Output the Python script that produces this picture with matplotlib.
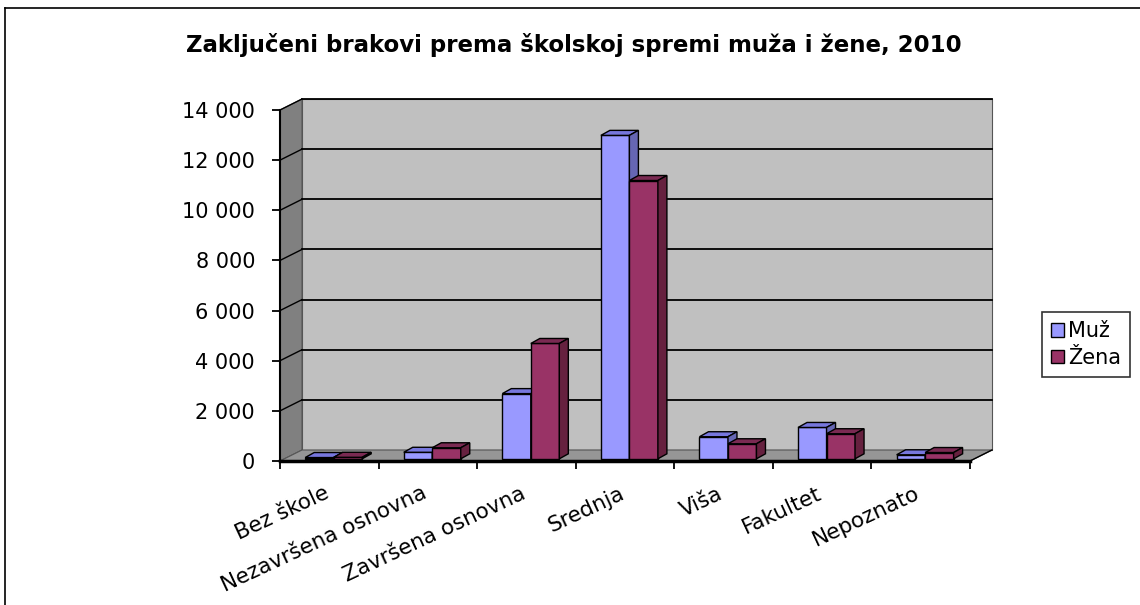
import matplotlib
matplotlib.use("Agg")
import matplotlib.pyplot as plt
from matplotlib.patches import Polygon, Patch
from matplotlib.lines import Line2D
from matplotlib.ticker import FuncFormatter
from matplotlib.transforms import ScaledTranslation

# data
categories = ["Bez škole", "Nezavršena osnovna", "Završena osnovna", "Srednja",
              "Viša", "Fakultet", "Nepoznato"]
muz = [50, 260, 2600, 12900, 880, 1250, 160]
zena = [60, 440, 4600, 11100, 600, 1000, 250]
series_names = ["Muž", "Žena"]
yticks = [0, 2000, 4000, 6000, 8000, 10000, 12000, 14000]
title = "Zaključeni brakovi prema školskoj spremi muža i žene, 2010"

W, H = 1140, 605
fig = plt.figure(figsize=(W / 100, H / 100), dpi=100)
plt.rcParams["font.family"] = ["DejaVu Sans"]

# front plane of the plot in pixels
x0_px, x1_px, y0_px, y1_px = 280, 970, 461, 110
ax = fig.add_axes([x0_px / W, (H - y0_px) / H, (x1_px - x0_px) / W, (y0_px - y1_px) / H])
ncat = len(categories)
ymax = yticks[-1]
ax.set_xlim(0, ncat)
ax.set_ylim(0, ymax)
ax.patch.set_visible(False)

px_cat = (x1_px - x0_px) / ncat
px_val = (y0_px - y1_px) / ymax

# fake 3d offsets (pixels -> data units)
fdx, fdy = 22 / px_cat, 11 / px_val      # floor / wall depth
bdx, bdy = 9 / px_cat, 5 / px_val        # bar depth
bx0, by0 = 0.2 * fdx, 0.2 * fdy          # bars sit a bit behind the front edge
bw = 28.5 / px_cat

wall_kw = dict(closed=True, clip_on=False, linewidth=0.8, edgecolor="#555555")
ax.add_patch(Polygon([(fdx, fdy), (ncat + fdx, fdy), (ncat + fdx, ymax + fdy), (fdx, ymax + fdy)],
                     facecolor="#c0c0c0", zorder=0.5, **wall_kw))
ax.add_patch(Polygon([(0, 0), (0, ymax), (fdx, ymax + fdy), (fdx, fdy)],
                     facecolor="#808080", zorder=0.5, **wall_kw))
ax.add_patch(Polygon([(0, 0), (ncat, 0), (ncat + fdx, fdy), (fdx, fdy)],
                     facecolor="#969696", zorder=0.5, **wall_kw))

# gridlines on back wall + side wall
for v in yticks[1:]:
    ax.plot([fdx, ncat + fdx], [v + fdy, v + fdy], color="black", lw=1.3, zorder=0.6, clip_on=False)
    ax.plot([0, fdx], [v, v + fdy], color="black", lw=1.0, zorder=0.6, clip_on=False)
ax.plot([ncat, ncat + fdx], [0, fdy], color="black", lw=1.0, zorder=0.6, clip_on=False)

colors = ["#9999ff", "#993366"]
tops = ["#7777dd", "#7a2a52"]
sides = ["#6666b3", "#66213f"]

for i in range(ncat):
    for s, vals in enumerate([muz, zena]):
        xc = i + 0.5 + bx0 + (s - 0.5) * bw
        h = vals[i]
        ax.bar(xc, h, bw, bottom=by0, color=colors[s], edgecolor="black", lw=1.0, zorder=2)
        xl, xr, top = xc - bw / 2, xc + bw / 2, by0 + h
        ax.add_patch(Polygon([(xl, top), (xr, top), (xr + bdx, top + bdy), (xl + bdx, top + bdy)],
                             closed=True, facecolor=tops[s], edgecolor="black", lw=1.0, zorder=2))
        ax.add_patch(Polygon([(xr, by0), (xr, top), (xr + bdx, top + bdy), (xr + bdx, by0 + bdy)],
                             closed=True, facecolor=sides[s], edgecolor="black", lw=1.0, zorder=2))

for sp in ["top", "right"]:
    ax.spines[sp].set_visible(False)
ax.spines["left"].set_linewidth(1.5)
ax.spines["bottom"].set_linewidth(2.5)

ax.set_yticks(yticks)
ax.yaxis.set_major_formatter(FuncFormatter(lambda v, p: f"{int(v):,}".replace(",", " ")))
ax.tick_params(axis="y", length=6, width=1.3, pad=12, labelsize=15)

ax.set_xticks(range(ncat + 1))
ax.set_xticklabels([])
ax.set_xticks([i + 0.5 for i in range(ncat)], minor=True)
ax.set_xticklabels(categories, minor=True)
ax.tick_params(axis="x", which="major", length=6, width=1.3)
ax.tick_params(axis="x", which="minor", length=0, pad=16, labelsize=15.5)
shift = ScaledTranslation(-6 / 100, 0, fig.dpi_scale_trans)
for lab in ax.get_xticklabels(minor=True):
    lab.set_rotation(25)
    lab.set_ha("right")
    lab.set_va("top")
    lab.set_rotation_mode("anchor")
    lab.set_transform(lab.get_transform() + shift)

fig.text(574 / W, 1 - 45 / H, title, ha="center", va="center", fontsize=16.5, fontweight="bold")

handles = [Patch(facecolor=c, edgecolor="black", lw=1.0) for c in colors]
leg = fig.legend(handles, series_names, loc="upper left", bbox_to_anchor=(1042 / W, 1 - 312 / H),
                 fontsize=15, frameon=True, fancybox=False, handlelength=0.6, handleheight=0.6,
                 handletextpad=0.2, borderpad=0.45, labelspacing=0.3, borderaxespad=0)
leg.get_frame().set_edgecolor("black")
leg.get_frame().set_linewidth(1.2)

# outer chart border (only left/top visible in the crop)
fig.add_artist(Line2D([5 / W, 5 / W], [0, 1 - 8 / H], color="black", lw=1.2))
fig.add_artist(Line2D([5 / W, 1], [1 - 8 / H, 1 - 8 / H], color="black", lw=1.2))

fig.savefig("out.png", dpi=100)
